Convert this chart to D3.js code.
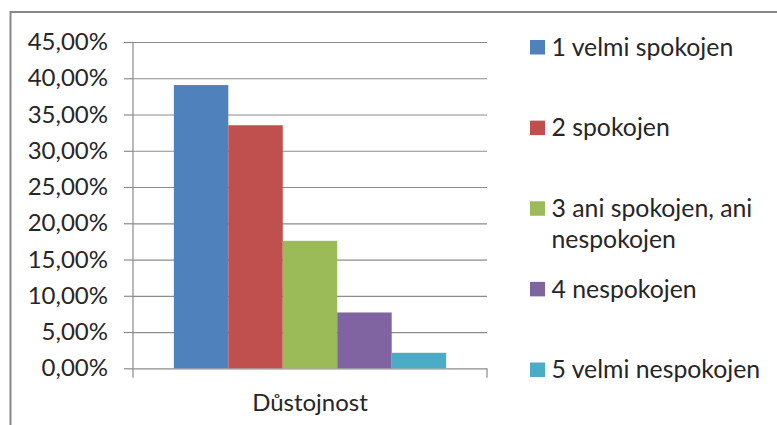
<!DOCTYPE html>
<html>
<head>
<meta charset="utf-8">
<script src="https://cdn.jsdelivr.net/npm/d3@7"></script>
<style>
  html, body { margin: 0; padding: 0; background: #fff; }
  svg { display: block; }
  text { font-family: Lato, "Open Sans", sans-serif; fill: #262626; }
</style>
</head>
<body>
<svg id="chart" width="777" height="425"></svg>
<script>
// Satisfaction shares for one category
const categories = ["Důstojnost"];
const seriesNames = ["1 velmi spokojen", "2 spokojen", "3 ani spokojen, ani nespokojen", "4 nespokojen", "5 velmi nespokojen"];
const seriesValues = [39.06, 33.52, 17.58, 7.70, 2.14];
const seriesColors = ["#4F81BD", "#C0504D", "#9BBB59", "#8064A2", "#4BACC6"];
const yTicks = [0, 5, 10, 15, 20, 25, 30, 35, 40, 45];
// legend text split into display lines
const legendLines = [["1 velmi spokojen"], ["2 spokojen"], ["3 ani spokojen, ani", "nespokojen"], ["4 nespokojen"], ["5 velmi nespokojen"]];

const svg = d3.select("#chart");
const plot = { left: 133, right: 487, top: 42, bottom: 368.3 };
const fontSize = 24;
const legendFontSize = 24.8;
const textColor = "#262626";

// outer frame (top and left edges visible)
svg.append("rect")
  .attr("x", 10.5).attr("y", 12)
  .attr("width", 820).attr("height", 500)
  .attr("fill", "none").attr("stroke", "#878787").attr("stroke-width", 2);

const y = d3.scaleLinear().domain([0, 45]).range([plot.bottom, plot.top]);
const x0 = d3.scaleBand().domain(categories).range([plot.left, plot.right]).padding(0);
const x1 = d3.scaleBand().domain(seriesNames).range([0, x0.bandwidth()])
  .paddingInner(0).paddingOuter(0.75);

const fmt = v => d3.format(".2f")(v).replace(".", ",") + "%";

// gridlines
svg.append("g")
  .attr("transform", `translate(${plot.left},0)`)
  .call(d3.axisLeft(y).tickValues(yTicks).tickSize(-(plot.right - plot.left)).tickFormat(""))
  .call(g => g.select(".domain").remove())
  .call(g => g.selectAll("line").attr("stroke", "#8c8c8c").attr("stroke-width", 1.2));

// bars
svg.append("g")
  .selectAll("g")
  .data(categories)
  .join("g")
  .attr("transform", d => `translate(${x0(d)},0)`)
  .selectAll("rect")
  .data(() => seriesNames.map((s, i) => ({ s, v: seriesValues[i], c: seriesColors[i] })))
  .join("rect")
  .attr("x", d => x1(d.s))
  .attr("width", x1.bandwidth())
  .attr("y", d => y(d.v))
  .attr("height", d => y(0) - y(d.v))
  .attr("fill", d => d.c);

// value axis
svg.append("g")
  .attr("transform", `translate(${plot.left},0)`)
  .call(d3.axisLeft(y).tickValues(yTicks).tickSize(9).tickPadding(16).tickFormat(fmt))
  .call(g => g.select(".domain").remove())
  .call(g => g.selectAll("line").attr("stroke", "#8c8c8c").attr("stroke-width", 1.2))
  .call(g => g.selectAll("text").attr("font-size", fontSize).attr("fill", textColor)
    .attr("font-family", "Lato, 'Open Sans', sans-serif"));

// vertical axis line
svg.append("line")
  .attr("x1", plot.left).attr("x2", plot.left)
  .attr("y1", y(45)).attr("y2", y(0) + 9.5)
  .attr("stroke", "#8c8c8c").attr("stroke-width", 1.2);

// category boundary ticks
svg.append("g")
  .selectAll("line")
  .data(x0.range().slice(1))
  .join("line")
  .attr("x1", d => d).attr("x2", d => d)
  .attr("y1", y(0)).attr("y2", y(0) + 9.5)
  .attr("stroke", "#8c8c8c").attr("stroke-width", 1.2);

// category axis labels
svg.append("g")
  .attr("transform", `translate(0,${y(0)})`)
  .call(d3.axisBottom(x0).tickSize(0).tickPadding(26))
  .call(g => g.select(".domain").remove())
  .call(g => g.selectAll("text").attr("font-size", fontSize).attr("fill", textColor)
    .attr("font-family", "Lato, 'Open Sans', sans-serif"));

// legend
const ly = d3.scalePoint().domain(seriesNames).range([47, 369.5]);
const legend = svg.append("g")
  .selectAll("g")
  .data(seriesNames)
  .join("g")
  .attr("transform", d => `translate(530,${ly(d)})`);

legend.append("rect")
  .attr("x", 0).attr("y", -7)
  .attr("width", 15).attr("height", 14.5)
  .attr("fill", (d, i) => seriesColors[i]);

legend.append("text")
  .attr("x", 21.5)
  .attr("font-size", legendFontSize)
  .selectAll("tspan")
  .data((d, i) => legendLines[i])
  .join("tspan")
  .attr("x", 21.5)
  .attr("y", (d, j) => j * 31)
  .attr("dy", "0.35em")
  .text(d => d);
</script>
</body>
</html>
